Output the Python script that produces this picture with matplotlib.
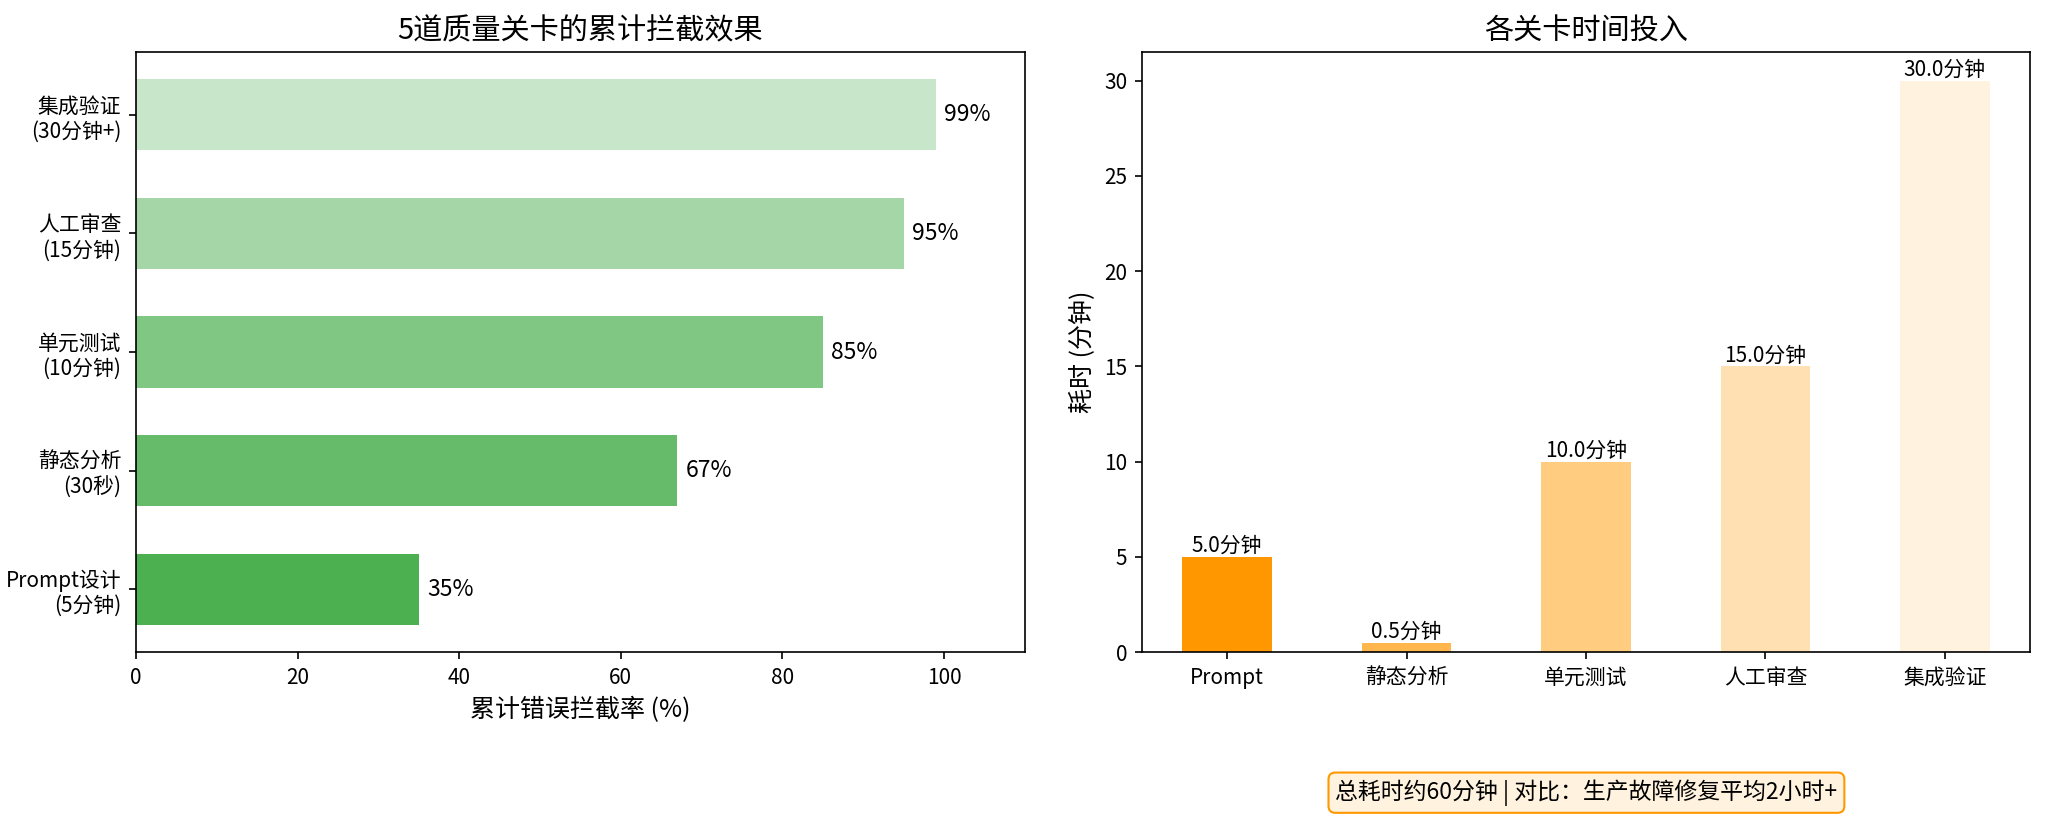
import matplotlib
matplotlib.use("Agg")
import matplotlib.pyplot as plt

plt.rcParams["font.family"] = ["Noto Sans CJK SC", "DejaVu Sans"]
plt.rcParams["axes.unicode_minus"] = False

# 关卡数据
GATE_LABELS = ["Prompt设计\n(5分钟)", "静态分析\n(30秒)", "单元测试\n(10分钟)",
               "人工审查\n(15分钟)", "集成验证\n(30分钟+)"]
CATCH_RATE = [35, 67, 85, 95, 99]
GREENS = ["#4CAF50", "#66BB6A", "#81C784", "#A5D6A7", "#C8E6C9"]

STAGES = ["Prompt", "静态分析", "单元测试", "人工审查", "集成验证"]
MINUTES = [5, 0.5, 10, 15, 30]
ORANGES = ["#FF9800", "#FFB74D", "#FFCC80", "#FFE0B2", "#FFF3E0"]

NOTE = "总耗时约60分钟 | 对比：生产故障修复平均2小时+"


def main():
    fig = plt.figure(figsize=(2047 / 150, 824 / 150), dpi=150)
    ax1 = fig.add_axes([0.0664, 0.2087, 0.4343, 0.7282])
    ax2 = fig.add_axes([0.5579, 0.2087, 0.4338, 0.7282])

    # 左图：累计拦截率
    ypos = range(len(GATE_LABELS))
    ax1.barh(ypos, CATCH_RATE, height=0.6, color=GREENS)
    for y, v in zip(ypos, CATCH_RATE):
        ax1.text(v + 1, y, f"{v}%", va="center", ha="left", fontsize=11)
    ax1.set_yticks(list(ypos))
    ax1.set_yticklabels(GATE_LABELS, fontsize=10)
    ax1.set_xlim(0, 110)
    ax1.set_xlabel("累计错误拦截率 (%)", fontsize=12)
    ax1.set_title("5道质量关卡的累计拦截效果", fontsize=14)
    ax1.tick_params(axis="x", labelsize=10)

    # 右图：时间投入
    bars = ax2.bar(STAGES, MINUTES, width=0.5, color=ORANGES)
    ax2.bar_label(bars, fmt="%.1f分钟", fontsize=10, padding=0)
    ax2.set_ylabel("耗时 (分钟)", fontsize=12)
    ax2.set_title("各关卡时间投入", fontsize=14)
    ax2.tick_params(labelsize=10)

    fig.text(0.775, 0.038, NOTE, ha="center", va="center", fontsize=11,
             bbox=dict(boxstyle="round,pad=0.3", facecolor="#FFF3E0",
                       edgecolor="#FF9800"))

    fig.savefig("out.png", dpi=150)
    plt.close(fig)


if __name__ == "__main__":
    main()
